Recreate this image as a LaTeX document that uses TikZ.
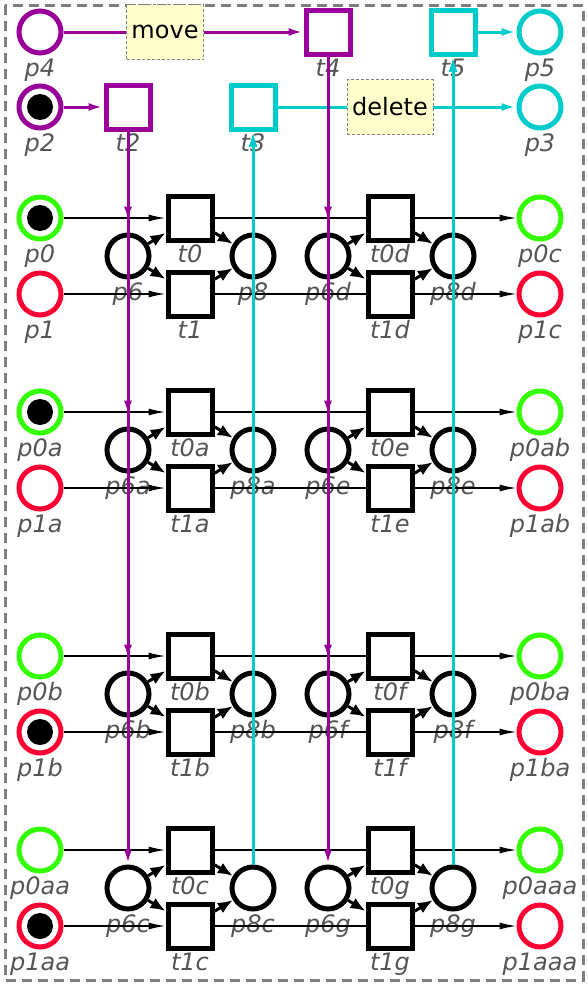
\documentclass[tikz,border=0pt]{standalone}
\usepackage{fontspec}
\setmainfont{DejaVu Sans}
\usetikzlibrary{arrows.meta}
\definecolor{mag}{HTML}{990099}
\definecolor{cya}{HTML}{00CCCC}
\definecolor{grn}{HTML}{33FF00}
\definecolor{rd}{HTML}{FF0033}
\definecolor{labgray}{HTML}{555555}
\definecolor{notefill}{HTML}{FFFFCC}
\definecolor{framegray}{HTML}{808080}
\tikzset{
  place/.style={circle, draw, line width=5pt, minimum size=42pt, inner sep=0pt, fill=white},
  trans/.style={rectangle, draw, line width=5pt, minimum size=44pt, inner sep=0pt, fill=white},
  lab/.style={anchor=base, inner sep=0pt, text=labgray, font=\fontsize{24}{24}\selectfont\itshape},
  note/.style={fill=notefill, draw=framegray, line width=0.8pt, dash pattern=on 3pt off 2pt,
     minimum height=55pt, inner sep=0pt, font=\fontsize{24}{24}\selectfont},
  barc/.style={line width=1.4pt, -{Latex[length=17pt,width=7pt]}},
  iarc/.style={line width=3pt, -{Latex[length=15pt,width=12pt]}},
  plainarc/.style={line width=1.4pt},
  marc/.style={draw=mag, line width=3pt, -{Latex[length=15pt,width=8pt]}},
  carc/.style={draw=cya, line width=3pt, -{Latex[length=15pt,width=8pt]}},
  frame/.style={draw=framegray, line width=3pt, dash pattern=on 10pt off 6pt},
}
\newcommand\mkplace[5]{\node[place,draw=#4] (#1) at (#2,#3) {};
  \node[lab] (#1l) at (#2,#3+44) {#5};}
\newcommand\mktrans[5]{\node[trans,draw=#4] (#1) at (#2,#3) {};
  \node[lab] (#1l) at (#2,#3+44) {#5};}
\newcommand\tok[1]{\fill (#1.center) circle (13pt);}
% left half of a module: y, p0, p1, t0, t1, p6, p8
\newcommand\modleft[7]{%
  \mkplace{#2}{40}{#1}{grn}{#2}
  \mkplace{#3}{40}{#1+76}{rd}{#3}
  \mktrans{#4}{190}{#1}{black}{#4}
  \mktrans{#5}{190}{#1+76}{black}{#5}
  \mkplace{#6}{128}{#1+38}{black}{#6}
  \mkplace{#7}{253}{#1+38}{black}{#7}
  \draw[barc] (#2) -- (#4);
  \draw[barc] (#3) -- (#5);
  \draw[iarc] (#6) -- (#4);
  \draw[iarc] (#6) -- (#5);
  \draw[iarc] (#4) -- (#7);
  \draw[iarc] (#5) -- (#7);
}
% right half: y, t0d, t1d, p6d, p8d, p0c, p1c
\newcommand\modright[7]{%
  \mktrans{#2}{390}{#1}{black}{#2}
  \mktrans{#3}{390}{#1+76}{black}{#3}
  \mkplace{#4}{328}{#1+38}{black}{#4}
  \mkplace{#5}{453}{#1+38}{black}{#5}
  \mkplace{#6}{540}{#1}{grn}{#6}
  \mkplace{#7}{540}{#1+76}{rd}{#7}
  \draw[barc] (#2) -- (#6);
  \draw[barc] (#3) -- (#7);
  \draw[iarc] (#4) -- (#2);
  \draw[iarc] (#4) -- (#3);
  \draw[iarc] (#2) -- (#5);
  \draw[iarc] (#3) -- (#5);
}
\begin{document}
\begin{tikzpicture}[x=1pt,y=-1pt]
\useasboundingbox (0,0) rectangle (588,985);
\draw[frame] (5,5) rectangle (583,980);
% top
\mkplace{p4}{40}{32}{mag}{p4}
\mktrans{t4}{328}{32}{mag}{t4}
\mktrans{t5}{453}{32}{cya}{t5}
\mkplace{p5}{540}{32}{cya}{p5}
\mkplace{p2}{40}{107}{mag}{p2}
\mktrans{t2}{128}{107}{mag}{t2}
\mktrans{t3}{253}{107}{cya}{t3}
\mkplace{p3}{540}{107}{cya}{p3}
\tok{p2}
\draw[marc] (p4) -- (t4);
\node[note, minimum width=77pt] (mv) at (165,32) {move};
\draw[carc] (t3) -- (p3);
\node[note, minimum width=86pt] (del) at (390,107) {delete};
\draw[carc] (t5) -- (p5);
\draw[marc] (p2) -- (t2);
% modules
\modleft{218}{p0}{p1}{t0}{t1}{p6}{p8}
\modright{218}{t0d}{t1d}{p6d}{p8d}{p0c}{p1c}
\draw[plainarc] (t0) -- (t0d);
\draw[plainarc] (t1) -- (t1d);
\tok{p0}
\modleft{412}{p0a}{p1a}{t0a}{t1a}{p6a}{p8a}
\modright{412}{t0e}{t1e}{p6e}{p8e}{p0ab}{p1ab}
\draw[plainarc] (t0a) -- (t0e);
\draw[plainarc] (t1a) -- (t1e);
\tok{p0a}
\modleft{656}{p0b}{p1b}{t0b}{t1b}{p6b}{p8b}
\modright{656}{t0f}{t1f}{p6f}{p8f}{p0ba}{p1ba}
\draw[plainarc] (t0b) -- (t0f);
\draw[plainarc] (t1b) -- (t1f);
\tok{p1b}
\modleft{850}{p0aa}{p1aa}{t0c}{t1c}{p6c}{p8c}
\modright{850}{t0g}{t1g}{p6g}{p8g}{p0aaa}{p1aaa}
\draw[plainarc] (t0c) -- (t0g);
\draw[plainarc] (t1c) -- (t1g);
\tok{p1aa}
% long colored arcs
\draw[marc, shorten >=11pt] (t2) -- (p6);
\draw[marc, shorten >=11pt] (t2) -- (p6a);
\draw[marc, shorten >=11pt] (t2) -- (p6b);
\draw[marc] (t2) -- (p6c);
\draw[marc, shorten >=11pt] (t4) -- (p6d);
\draw[marc, shorten >=11pt] (t4) -- (p6e);
\draw[marc, shorten >=11pt] (t4) -- (p6f);
\draw[marc] (t4) -- (p6g);
\draw[carc] (p8) -- (t3);
\draw[carc] (p8a) -- (t3);
\draw[carc] (p8b) -- (t3);
\draw[carc] (p8c) -- (t3);
\draw[carc] (p8d) -- (t5);
\draw[carc] (p8e) -- (t5);
\draw[carc] (p8f) -- (t5);
\draw[carc] (p8g) -- (t5);
\end{tikzpicture}
\end{document}
